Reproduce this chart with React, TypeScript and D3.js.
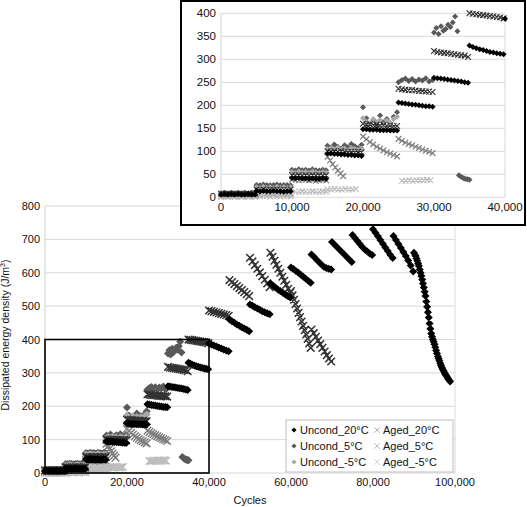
import React from 'react';
import * as d3 from 'd3';

// each block: [startCycle, endCycle, ...readings taken evenly across the block]
type Block = number[];

const uncond20: Block[] = [
  [0, 4800, 6, 7, 6, 7, 6, 7, 6, 6, 7, 6, 6],
  [5000, 9800, 14, 13, 14, 13, 13, 14, 13, 13, 12, 13, 13],
  [10000, 14800, 42, 41, 42, 41, 41, 40, 41, 40, 40, 41, 40],
  [15000, 19800, 95, 95, 94, 94, 93, 93, 92, 92, 91, 91, 90],
  [20000, 24800, 148, 148, 147, 147, 147, 146, 146, 146, 145, 145, 145],
  [25000, 29800, 206, 205, 204, 203, 202, 201, 200, 199, 198, 198, 197],
  [30000, 34800, 260, 259, 258, 257, 256, 255, 254, 253, 252, 250, 249],
  [35000, 39800, 330, 327, 324, 322, 320, 318, 316, 315, 313, 312, 311],
  [40000, 44800, 388, 385, 382, 379, 376, 373, 370, 367, 365],
  [45000, 49800, 460, 455, 450, 445, 441, 437, 433, 429, 425],
  [50000, 54800, 505, 501, 497, 493, 489, 485, 482, 479, 476],
  [55000, 59800, 568, 562, 556, 550, 545, 540, 535, 530, 526],
  [60000, 64800, 616, 611, 605, 600, 594, 588, 582, 576, 570],
  [65000, 69800, 655, 648, 640, 632, 625, 618, 614, 612, 610],
  [70000, 74800, 692, 685, 677, 670, 662, 655, 647, 640, 632],
  [75000, 79800, 713, 704, 695, 686, 677, 670, 664, 658, 653],
  [80000, 84800, 730, 720, 709, 698, 687, 676, 665, 654, 644],
  [85000, 89800, 710, 698, 686, 674, 662, 650, 637, 622, 604],
  [90000, 98800, 660, 655, 650, 643, 636, 628, 620, 610, 600, 590, 580, 568, 556, 543, 530,
    514, 498, 482, 466, 448, 432, 418, 408, 400, 393, 386, 377, 367, 358, 350, 343, 336, 329,
    322, 316, 311, 306, 301, 297, 293, 289, 285, 281, 278, 274],
];

const uncond5: Block[] = [
  [0, 4800, 9, 10, 9, 10, 9, 10, 9, 10, 9, 10, 9],
  [5000, 9800, 27, 26, 28, 27, 26, 27, 28, 26, 27, 27, 26],
  [10000, 14800, 60, 58, 61, 59, 60, 58, 61, 59, 58, 60, 59],
  [15000, 19800, 112, 108, 115, 110, 106, 113, 109, 116, 111, 107, 114],
  [20000, 24800, 196, 172, 160, 168, 155, 178, 163, 170, 158, 175, 185],
  [25000, 29800, 250, 255, 258, 253, 257, 252, 256, 254, 259, 252, 255],
  [30000, 33300, 358, 368, 355, 372, 362, 366, 375, 370, 380, 393, 361],
  [33500, 35000, 48, 45, 43, 41, 40, 39, 38],
];

const uncondM5: Block[] = [
  [0, 4800, 5, 4, 5, 4, 5, 4, 5, 4, 5, 4, 5],
  [5000, 9800, 22, 20, 23, 21, 22, 20, 23, 21, 22, 20, 22],
  [10000, 14800, 55, 53, 56, 54, 55, 53, 56, 54, 53, 55, 54],
  [15000, 19800, 105, 107, 103, 108, 104, 106, 102, 107, 105, 103, 106],
  [20000, 24800, 172, 165, 160, 170, 163, 168, 158, 167, 162, 170, 175],
];

const aged20: Block[] = [
  [0, 4800, 8, 7, 8, 7, 8, 7, 8, 7, 8, 7, 8],
  [5000, 9800, 17, 16, 17, 16, 17, 16, 17, 16, 17, 16, 17],
  [10000, 14800, 48, 47, 48, 47, 48, 47, 48, 47, 48, 47, 48],
  [15000, 19800, 100, 99, 100, 99, 100, 99, 98, 99, 98, 99, 98],
  [20000, 24800, 160, 158, 159, 157, 158, 156, 157, 155, 156, 155, 155],
  [25000, 29800, 236, 235, 234, 233, 233, 232, 231, 231, 230, 230, 229],
  [30000, 34800, 318, 316, 315, 314, 313, 312, 311, 310, 309, 308, 305],
  [35000, 39800, 400, 399, 398, 397, 396, 395, 394, 393, 392, 391, 389],
  [40000, 44800, 487, 485, 483, 481, 479, 477, 475, 473, 471],
  [45000, 49800, 578, 572, 566, 560, 554, 548, 542, 536, 530],
  [50000, 54800, 645, 634, 623, 612, 601, 590, 579, 568, 557],
  [55000, 59800, 660, 648, 636, 624, 612, 600, 588, 576, 564, 552, 540],
  [60000, 64800, 545, 532, 519, 506, 493, 480, 467, 454, 441, 428, 415, 402, 388, 375],
  [65000, 69800, 430, 419, 408, 397, 386, 375, 364, 353, 343, 334],
];

const aged5: Block[] = [
  [0, 4800, 2, 3, 2, 3, 2, 3, 2, 3, 2, 3, 2],
  [5000, 9800, 8, 6, 9, 7, 8, 6, 9, 7, 8, 6, 8],
  [10000, 14800, 39, 38, 37, 39, 38, 37, 38, 36, 37, 38, 37],
  [15000, 17200, 88, 80, 72, 65, 58, 52, 46],
  [20000, 24800, 132, 126, 120, 115, 110, 106, 102, 98, 95, 92, 89],
  [25000, 29800, 127, 123, 119, 116, 113, 110, 107, 104, 101, 99, 96],
];

const agedM5: Block[] = [
  [0, 4800, 1, 2, 1, 2, 1, 2, 1, 2, 1, 2, 1],
  [5000, 9800, 3, 2, 4, 3, 2, 4, 3, 2, 4, 3, 2],
  [10500, 14800, 12, 12, 13, 12, 12, 13, 12, 12, 13, 12],
  [15000, 19000, 17, 17, 18, 17, 17, 18, 17, 17, 18],
  [25500, 29500, 36, 36, 37, 36, 37, 37, 37, 38, 37],
];

const mainYTicks = [0, 100, 200, 300, 400, 500, 600, 700, 800];
const mainXTicks = [0, 20000, 40000, 60000, 80000, 100000];
const insetYTicks = [0, 50, 100, 150, 200, 250, 300, 350, 400];
const insetXTicks = [0, 10000, 20000, 30000, 40000];

interface Series {
  name: string;
  blocks: Block[];
  marker: 'diamond' | 'cross';
  color: string;
  legendColor: string;
}

// draw order: later ones on top
const series: Series[] = [
  { name: 'Uncond_5°C', blocks: uncond5, marker: 'diamond', color: '#595959', legendColor: '#595959' },
  { name: 'Aged_5°C', blocks: aged5, marker: 'cross', color: '#808080', legendColor: '#b5b5b5' },
  { name: 'Aged_-5°C', blocks: agedM5, marker: 'cross', color: '#bdbdbd', legendColor: '#d0d0d0' },
  { name: 'Uncond_-5°C', blocks: uncondM5, marker: 'diamond', color: '#a8a8a8', legendColor: '#a8a8a8' },
  { name: 'Aged_20°C', blocks: aged20, marker: 'cross', color: '#333333', legendColor: '#a8a8a8' },
  { name: 'Uncond_20°C', blocks: uncond20, marker: 'diamond', color: '#000000', legendColor: '#000000' },
];

const legendRows = [
  ['Uncond_20°C', 'Aged_20°C'],
  ['Uncond_5°C', 'Aged_5°C'],
  ['Uncond_-5°C', 'Aged_-5°C'],
];

const FONT = '"Liberation Sans", Arial, Helvetica, sans-serif';
const fmt = d3.format(',');

function points(blocks: Block[]) {
  const out: [number, number][] = [];
  blocks.forEach(b => {
    const [s, e, ...ys] = b;
    const step = ys.length > 1 ? (e - s) / (ys.length - 1) : 0;
    ys.forEach((y, i) => out.push([s + i * step, y]));
  });
  return out;
}

function markerPath(pts: [number, number][], kind: string, r: number) {
  return pts.map(([x, y]) => kind === 'diamond'
    ? `M${x},${y - r}L${x + r},${y}L${x},${y + r}L${x - r},${y}Z`
    : `M${x - r},${y - r}L${x + r},${y + r}M${x - r},${y + r}L${x + r},${y - r}`).join('');
}

interface PlotProps {
  left: number; right: number; top: number; bottom: number;
  xMax: number; yMax: number;
  xTicks: number[]; yTicks: number[];
  r: number;
  crossWidth: number;
  fontSize: number;
}

const Plot: React.FC<PlotProps> = ({ left, right, top, bottom, xMax, yMax, xTicks, yTicks, r, crossWidth, fontSize }) => {
  const x = d3.scaleLinear().domain([0, xMax]).range([left, right]);
  const y = d3.scaleLinear().domain([0, yMax]).range([bottom, top]);
  return (
    <g>
      {yTicks.map(t => (
        <g key={'y' + t}>
          <line x1={left} x2={right} y1={y(t)} y2={y(t)} stroke="#d9d9d9" strokeWidth={1} />
          <text x={left - 5} y={y(t) + 4} textAnchor="end" fontSize={fontSize} fill="#111">{fmt(t)}</text>
        </g>
      ))}
      <line x1={left} x2={left} y1={top} y2={bottom} stroke="#d0d0d0" />
      <line x1={right} x2={right} y1={top} y2={bottom} stroke="#d9d9d9" />
      {xTicks.map(t => (
        <text key={'x' + t} x={x(t)} y={bottom + fontSize + 2} textAnchor="middle" fontSize={fontSize} fill="#111">{fmt(t)}</text>
      ))}
      {series.map(s => {
        const pts = points(s.blocks)
          .filter(([cx, cy]) => cx <= xMax && cy <= yMax)
          .map(([cx, cy]) => [x(cx), y(cy)] as [number, number]);
        return s.marker === 'diamond'
          ? <path key={s.name} d={markerPath(pts, 'diamond', r)} fill={s.color} />
          : <path key={s.name} d={markerPath(pts, 'cross', r * 0.95)} fill="none" stroke={s.color} strokeWidth={crossWidth} />;
      })}
    </g>
  );
};

const App: React.FC = () => {
  const mx = d3.scaleLinear().domain([0, 100000]).range([45, 455]);
  const my = d3.scaleLinear().domain([0, 800]).range([473, 206]);
  const legendX = 286, legendY = 420;
  return (
    <svg width={527} height={507} style={{ position: 'absolute', left: 0, top: 0, background: '#fff' }} fontFamily={FONT}>
      <rect width={527} height={507} fill="#fff" />
      <Plot left={45} right={455} top={206} bottom={473} xMax={100000} yMax={800}
        xTicks={mainXTicks} yTicks={mainYTicks} r={4} crossWidth={1.5} fontSize={11} />
      {/* zoom window */}
      <rect x={mx(0)} y={my(400)} width={mx(40000) - mx(0)} height={my(0) - my(400)}
        fill="none" stroke="#000" strokeWidth={1.6} />
      <text x={250} y={504} textAnchor="middle" fontSize={11} fill="#111">Cycles</text>
      <text transform="translate(9,335) rotate(-90)" textAnchor="middle" fontSize={10.5} fill="#111">
        Dissipated energy density (J/m<tspan fontSize={7} dy={-4}>3</tspan><tspan dy={4}>)</tspan>
      </text>
      {/* legend */}
      <rect x={legendX} y={legendY} width={167} height={52} fill="#fff" stroke="#bfbfbf" />
      {legendRows.map((row, i) => {
        const cy = legendY + 10 + i * 16;
        return row.map((name, j) => {
          const s = series.find(d => d.name === name)!;
          const mxp = j === 0 ? legendX + 8 : legendX + 91;
          return (
            <g key={name}>
              {s.marker === 'diamond'
                ? <path d={markerPath([[mxp, cy]], 'diamond', 2.6)} fill={s.legendColor} />
                : <path d={markerPath([[mxp, cy]], 'cross', 2.8)} stroke={s.legendColor} strokeWidth={0.9} fill="none" />}
              <text x={mxp + 6} y={cy + 4} fontSize={11} fill="#111">{name}</text>
            </g>
          );
        });
      })}
      {/* inset */}
      <rect x={181} y={1} width={344} height={224} fill="#fff" stroke="#000" strokeWidth={2} />
      <Plot left={221} right={505} top={13.3} bottom={197.3} xMax={40000} yMax={400}
        xTicks={insetXTicks} yTicks={insetYTicks} r={3} crossWidth={1.2} fontSize={11.5} />
    </svg>
  );
};

export default App;
